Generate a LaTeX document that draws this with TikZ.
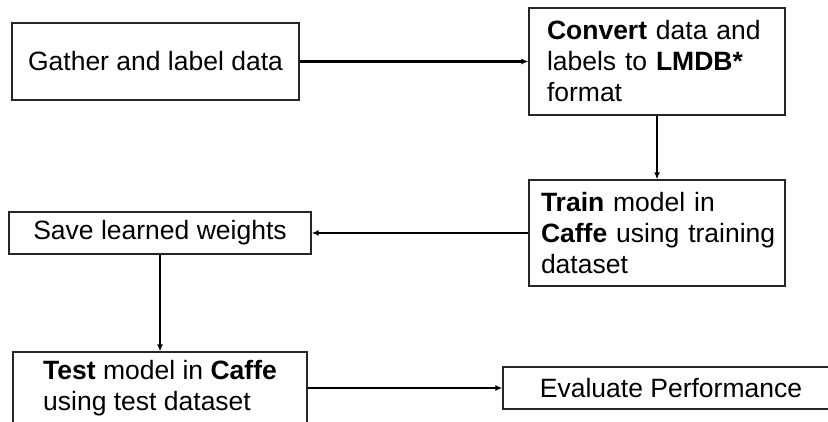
\documentclass[tikz,border=0pt]{standalone}
\usepackage{fontspec}
\setmainfont{Liberation Sans}
\usetikzlibrary{arrows.meta}
\begin{document}
\begin{tikzpicture}[x=1pt,y=-1pt,
  box/.style={draw=black!85, line width=1.3pt, fill=white, inner sep=0pt,
    font=\fontsize{26.5}{31}\selectfont},
  conn/.style={line width=2.2pt, -{Latex[length=7pt,width=6pt]}}]
\useasboundingbox (0,0) rectangle (828,422);
\clip (0,0) rectangle (828,422);
\fill[white] (0,0) rectangle (828,422);
\node[box, minimum width=287pt, minimum height=77pt] (gather) at (155.5,61.5) {Gather and label data};
\node[box, minimum width=256pt, minimum height=107pt, text width=220pt, inner xsep=18pt, align=left] (convert) at (657,61.5)
  {\mbox{\textbf{Convert} data and}\\\mbox{labels to \textbf{LMDB*}}\\format};
\node[box, minimum width=256pt, minimum height=106pt, text width=232pt, inner xsep=12pt, align=left] (train) at (657,233)
  {\mbox{\textbf{Train} model in}\\\mbox{\textbf{Caffe} using training}\\dataset};
\node[box, minimum width=302pt, minimum height=42pt] (save) at (160,233) {Save learned weights};
\node[box, minimum width=294pt, minimum height=72pt, align=left] (test) at (160,388)
  {\textbf{Test} model in \textbf{Caffe}\\using test dataset};
\node[box, minimum width=336pt, minimum height=42pt] (eval) at (671,388) {Evaluate Performance};
\draw[conn] (gather.east) -- (convert.west |- gather.east);
\draw[conn] (convert.south) -- (train.north);
\draw[conn] (train.west) -- (save.east);
\draw[conn] (save.south) -- (test.north);
\draw[conn] (test.east) -- (eval.west |- test.east);
\end{tikzpicture}
\end{document}
